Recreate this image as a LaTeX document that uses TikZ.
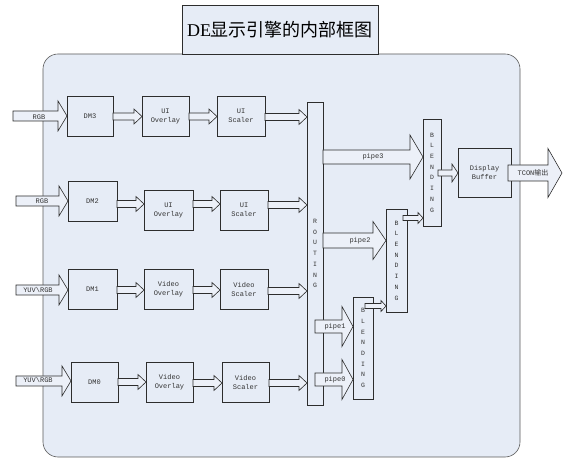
\documentclass[tikz,border=0pt]{standalone}
\usepackage{fontspec}
\setmainfont{Liberation Serif}
\setmonofont{Liberation Mono}
\newfontfamily\cjk{Noto Sans CJK SC}
\usetikzlibrary{calc}
\definecolor{bgblue}{RGB}{230,236,246}
\definecolor{arrfill}{RGB}{236,240,248}
\definecolor{edge}{RGB}{45,45,45}
\tikzset{
  blk/.style={draw=edge, fill=bgblue, line width=0.7pt, inner sep=0pt, outer sep=0pt,
    align=center, font=\ttfamily\fontsize{7}{9}\selectfont, text=black!80},
  vblk/.style={blk, font=\ttfamily\fontsize{6.5}{10.7}\selectfont},
  barr/.style={draw=edge, fill=arrfill, line width=0.6pt, line join=miter},
  lbl/.style={font=\ttfamily\fontsize{7}{9}\selectfont, text=black!80, inner sep=0pt},
}
% #2 start point (gives y), #3 tip point (gives x), #4 shaft half, #5 head half, #6 head length
\newcommand\barrow[6][]{%
  \path[barr,#1] let \p1=#2, \p2=#3 in
    (\x1,{\y1+#4}) -- ({\x2-#6},{\y1+#4}) -- ({\x2-#6},{\y1+#5}) -- (\x2,\y1)
    -- ({\x2-#6},{\y1-#5}) -- ({\x2-#6},{\y1-#4}) -- (\x1,{\y1-#4}) -- cycle;}
\begin{document}
\begin{tikzpicture}[x=1pt,y=-1pt]
\useasboundingbox (0,0) rectangle (579,470);
% frame
\path[draw=black!65, fill=bgblue, line width=0.6pt, rounded corners=15pt] (43,54) rectangle (520,457);
% title
\node[draw=edge, fill=bgblue, line width=0.7pt, minimum width=196pt, minimum height=49pt, inner sep=0pt]
  (title) at (280,29.5) {\fontsize{18}{20}\selectfont DE{\cjk 显示引擎的内部框图}};

% row 1
\node[blk, minimum width=46pt, minimum height=40pt] (dm3) at (90,116) {DM3};
\node[blk, minimum width=47pt, minimum height=40pt] (ov3) at (165.5,116) {UI\\Overlay};
\node[blk, minimum width=48pt, minimum height=40pt] (sc3) at (241,116) {UI\\Scaler};
% row 2
\node[blk, minimum width=49pt, minimum height=40pt] (dm2) at (92.5,201) {DM2};
\node[blk, minimum width=49pt, minimum height=40pt] (ov2) at (168.5,210) {UI\\Overlay};
\node[blk, minimum width=48pt, minimum height=40pt] (sc2) at (244,210) {UI\\Scaler};
% row 3
\node[blk, minimum width=49pt, minimum height=40pt] (dm1) at (92.5,289) {DM1};
\node[blk, minimum width=49pt, minimum height=40pt] (ov1) at (168.5,289) {Video\\Overlay};
\node[blk, minimum width=48pt, minimum height=40pt] (sc1) at (244,289) {Video\\Scaler};
% row 4
\node[blk, minimum width=47pt, minimum height=40pt] (dm0) at (94.5,382) {DM0};
\node[blk, minimum width=47pt, minimum height=40pt] (ov0) at (169.5,382) {Video\\Overlay};
\node[blk, minimum width=47pt, minimum height=40pt] (sc0) at (245.5,382) {Video\\Scaler};

% routing and blending
\node[vblk, minimum width=16pt, minimum height=303pt] (rt) at (315,253.5) {R\\O\\U\\T\\I\\N\\G};
\node[vblk, minimum width=18pt, minimum height=107pt] (bl3) at (432,172.5) {B\\L\\E\\N\\D\\I\\N\\G};
\node[vblk, minimum width=21pt, minimum height=103pt] (bl2) at (396.5,260.5) {B\\L\\E\\N\\D\\I\\N\\G};
\node[vblk, minimum width=20pt, minimum height=102pt] (bl1) at (363,348) {B\\L\\E\\N\\D\\I\\N\\G};
\node[blk, minimum width=53pt, minimum height=49pt] (db) at (484.5,172.5) {Display\\Buffer};

% input arrows
\coordinate (in3) at (13,116);
\coordinate (in2) at (16,201);
\coordinate (in1) at (16,290);
\coordinate (in0) at (16,381);
\barrow{(in3)}{(dm3.west)}{5}{15}{9}
\barrow{(in2)}{(dm2.west)}{5}{15}{9}
\barrow{(in1)}{(dm1.west)}{5}{15}{9}
\barrow{(in0)}{(dm0.west)}{5}{15}{9}
\node[lbl] (l3) at (39,117) {RGB};
\node[lbl] (l2) at (42,201) {RGB};
\node[lbl] (l1) at (38,290) {YUV\textbackslash RGB};
\node[lbl] (l0) at (38,380) {YUV\textbackslash RGB};

% internal arrows
\barrow{($(dm3.east)+(0,0.5)$)}{(ov3.west)}{3.5}{7.5}{8}
\barrow{($(ov3.east)+(0,0.5)$)}{(sc3.west)}{3.5}{7.5}{8}
\barrow{($(sc3.east)+(0,1)$)}{(rt.west)}{3.5}{7.5}{8}
\barrow{($(dm2.east)+(0,3)$)}{(ov2.west)}{3.5}{7.5}{8}
\barrow{($(ov2.east)+(0,-6)$)}{(sc2.west)}{3.5}{7.5}{8}
\barrow{($(sc2.east)+(0,-5)$)}{(rt.west)}{3.5}{7.5}{8}
\barrow{($(dm1.east)+(0,1)$)}{(ov1.west)}{3.5}{7.5}{8}
\barrow{($(ov1.east)+(0,1)$)}{(sc1.west)}{3.5}{7.5}{8}
\barrow{($(sc1.east)+(0,2)$)}{(rt.west)}{3.5}{7.5}{8}
\barrow{($(dm0.east)+(0,0)$)}{(ov0.west)}{3.5}{7.5}{8}
\barrow{($(ov0.east)+(0,1)$)}{(sc0.west)}{3.5}{7.5}{8}
\barrow{($(sc0.east)+(0,1)$)}{(rt.west)}{3.5}{7.5}{8}

% pipes
\coordinate (p3) at (323,157);
\coordinate (p2) at (323,240.5);
\coordinate (p1) at (315,326.5);
\coordinate (p0) at (315,379.5);
\barrow{(p3)}{(bl3.west)}{7}{22}{13}
\barrow{(p2)}{(bl2.west)}{7.5}{19}{13}
\barrow{(p1)}{(bl1.west)}{6.5}{20}{11}
\barrow{(p0)}{(bl1.west)}{6.5}{20}{11}
\node[lbl] (lp3) at (373,157) {pipe3};
\node[lbl] (lp2) at (360,241) {pipe2};
\node[lbl] (lp1) at (335,326.5) {pipe1};
\node[lbl] (lp0) at (335,380) {pipe0};

% blending chain
\coordinate (b1o) at (365,306);
\coordinate (b2o) at (403,218);
\coordinate (b3o) at (438,173);
\coordinate (dbo) at (508,173);
\coordinate (tcon) at (562,173);
\barrow{(b1o)}{(bl2.west)}{2.5}{5.5}{5}
\barrow{(b2o)}{(bl3.west)}{2.5}{5.5}{5}
\barrow{(b3o)}{(db.west)}{3}{9}{6}
\barrow{(dbo)}{(tcon)}{8}{24.5}{14}
\node[lbl] (lt) at (533,173) {TCON{\cjk\fontsize{7}{9}\selectfont 输出}};
\end{tikzpicture}
\end{document}
